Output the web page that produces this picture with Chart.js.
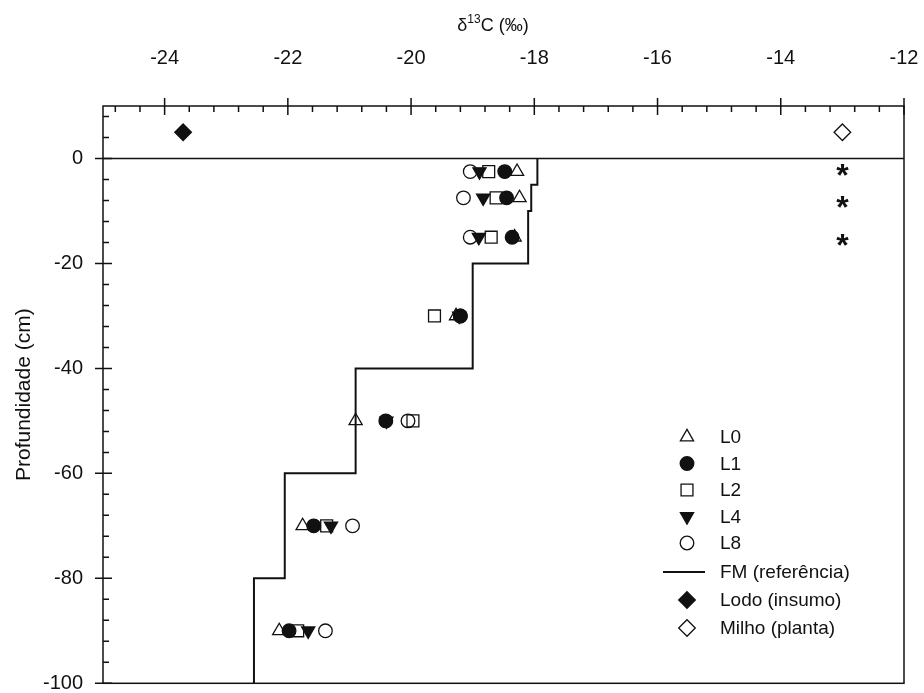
<!DOCTYPE html>
<html><head><meta charset="utf-8">
<script src="https://cdn.jsdelivr.net/npm/chart.js@4/dist/chart.umd.min.js"></script>
<style>html,body{margin:0;padding:0;background:#fff}#wrap{width:924px;height:693px;position:relative}</style>
</head><body><div id="wrap"><canvas id="c"></canvas></div>
<script>
// ---- data ----
const depths = [-2.5, -7.5, -15, -30, -50, -70, -90];
const L0 = [-18.28, -18.24, -18.32, -19.27, -20.90, -21.76, -22.14];
const L1 = [-18.48, -18.45, -18.36, -19.20, -20.41, -21.58, -21.98];
const L2 = [-18.74, -18.62, -18.70, -19.62, -19.97, -21.37, -21.84];
const L4 = [-18.89, -18.83, -18.90, -19.22, -20.40, -21.30, -21.67];
const L8 = [-19.04, -19.15, -19.04, -19.20, -20.05, -20.95, -21.39];
const fmX = [-17.95, -17.95, -18.05, -18.05, -18.10, -18.10, -19.00, -19.00, -20.90, -20.90, -22.05, -22.05, -22.55, -22.55];
const fmY = [0, -5, -5, -10, -10, -20, -20, -40, -40, -60, -60, -80, -80, -100];
const lodoX = [-23.7], lodoY = [5];
const milhoX = [-13.0], milhoY = [5];
const starX = [-13.0, -13.0, -13.0];
const starY = [-2.2, -8.2, -15.6];
const xTicks = [-24, -22, -20, -18, -16, -14, -12];
const yTicks = [0, -20, -40, -60, -80, -100];
const seriesNames = ['L0', 'L1', 'L2', 'L4', 'L8', 'FM (referência)', 'Lodo (insumo)', 'Milho (planta)'];
const xTitle = ['δ', '13', 'C (‰)'];
const yTitle = 'Profundidade (cm)';

const FONT = "'Liberation Sans', Arial, sans-serif";
const INK = '#111';
const pts = (xs, ys) => xs.map((x, i) => ({x: x, y: ys[i]}));

const mk = (label, xs, style, r, filled, rot, order) => ({
  label: label, data: pts(xs, depths), pointStyle: style, pointRadius: r, pointRotation: rot || 0,
  pointBackgroundColor: filled ? INK : 'rgba(0,0,0,0)', pointBorderColor: INK, pointBorderWidth: 1.3,
  showLine: false, order: order
});

const datasets = [
  mk(seriesNames[0], L0, 'triangle', 7.6, false, 0, 5),
  mk(seriesNames[1], L1, 'circle', 6.8, true, 0, 1),
  mk(seriesNames[2], L2, 'rect', 8.4, false, 0, 3),
  mk(seriesNames[3], L4, 'triangle', 7.6, true, 180, 2),
  mk(seriesNames[4], L8, 'circle', 6.8, false, 0, 4),
  {label: seriesNames[5], data: pts(fmX, fmY), showLine: true, borderColor: INK, borderWidth: 2,
   pointRadius: 0, fill: false, tension: 0, order: 6},
  {label: seriesNames[6], data: pts(lodoX, lodoY), pointStyle: 'rectRot', pointRadius: 8.3,
   pointBackgroundColor: INK, pointBorderColor: INK, pointBorderWidth: 1.3, order: 7},
  {label: seriesNames[7], data: pts(milhoX, milhoY), pointStyle: 'rectRot', pointRadius: 8.3,
   pointBackgroundColor: 'rgba(0,0,0,0)', pointBorderColor: INK, pointBorderWidth: 1.3, order: 8}
];

function drawMarker(ctx, style, r, x, y, filled, rot) {
  ctx.beginPath();
  if (style === 'circle') {
    ctx.arc(x, y, r, 0, Math.PI * 2);
  } else if (style === 'triangle') {
    let rad = (rot || 0) * Math.PI / 180;
    ctx.moveTo(x + Math.sin(rad) * r, y - Math.cos(rad) * r);
    rad += 2 * Math.PI / 3;
    ctx.lineTo(x + Math.sin(rad) * r, y - Math.cos(rad) * r);
    rad += 2 * Math.PI / 3;
    ctx.lineTo(x + Math.sin(rad) * r, y - Math.cos(rad) * r);
  } else if (style === 'rect') {
    const s = r * Math.SQRT1_2;
    ctx.rect(x - s, y - s, 2 * s, 2 * s);
  } else if (style === 'rectRot') {
    ctx.moveTo(x - r, y); ctx.lineTo(x, y - r); ctx.lineTo(x + r, y); ctx.lineTo(x, y + r);
  }
  ctx.closePath();
  ctx.fillStyle = INK; ctx.strokeStyle = INK; ctx.lineWidth = 1.3;
  if (filled) ctx.fill();
  ctx.stroke();
}

const decor = {
  id: 'decor',
  beforeDatasetsDraw(chart) {
    const {ctx, chartArea: a, scales: {x, y}} = chart;
    ctx.save();
    ctx.strokeStyle = INK; ctx.lineWidth = 1.5;
    const y0 = Math.round(y.getPixelForValue(0)) + 0.5;
    ctx.beginPath(); ctx.moveTo(a.left, y0); ctx.lineTo(a.right, y0); ctx.stroke();
    ctx.restore();
  },
  afterDatasetsDraw(chart) {
    const {ctx, chartArea: a, scales: {x, y}} = chart;
    ctx.save();
    ctx.strokeStyle = INK; ctx.lineWidth = 1.5;
    // frame
    ctx.strokeRect(a.left, a.top, a.right - a.left, a.bottom - a.top);
    // top axis ticks
    ctx.beginPath();
    for (let v = -24.4; v > x.min - 1e-6; v -= 0.4) {
      const px = x.getPixelForValue(v); ctx.moveTo(px, a.top); ctx.lineTo(px, a.top + 6);
    }
    for (let k = 0; k <= 30; k++) {
      const v = -24 + k * 0.4;
      if (v > x.max + 1e-6) break;
      const px = x.getPixelForValue(v);
      if (k % 5 === 0) { ctx.moveTo(px, a.top - 8); ctx.lineTo(px, a.top + 9); }
      else { ctx.moveTo(px, a.top); ctx.lineTo(px, a.top + 6); }
    }
    // left axis ticks
    for (let v = 8; v >= -100; v -= 4) {
      const py = y.getPixelForValue(v);
      if (v % 20 === 0) { ctx.moveTo(a.left - 8, py); ctx.lineTo(a.left + 9, py); }
      else { ctx.moveTo(a.left, py); ctx.lineTo(a.left + 6, py); }
    }
    ctx.stroke();

    // asterisks (significance marks)
    ctx.fillStyle = INK;
    ctx.font = 'bold 32px ' + FONT;
    ctx.textAlign = 'center'; ctx.textBaseline = 'alphabetic';
    const m = ctx.measureText('*');
    const mid = (m.actualBoundingBoxAscent - m.actualBoundingBoxDescent) / 2;
    starX.forEach((sx, i) => {
      ctx.fillText('*', x.getPixelForValue(sx), y.getPixelForValue(starY[i]) + mid);
    });

    // top title with superscript
    ctx.textBaseline = 'alphabetic'; ctx.textAlign = 'left';
    const fBig = '18px ' + FONT, fSmall = '12px ' + FONT;
    ctx.font = fBig; const w1 = ctx.measureText(xTitle[0]).width; const w3 = ctx.measureText(xTitle[2]).width;
    ctx.font = fSmall; const w2 = ctx.measureText(xTitle[1]).width;
    let tx = 493 - (w1 + w2 + w3) / 2;
    const base = 31;
    ctx.font = fBig; ctx.fillText(xTitle[0], tx, base); tx += w1;
    ctx.font = fSmall; ctx.fillText(xTitle[1], tx, base - 8); tx += w2;
    ctx.font = fBig; ctx.fillText(xTitle[2], tx, base);

    // y title
    ctx.save();
    ctx.translate(24, (a.top + a.bottom) / 2);
    ctx.rotate(-Math.PI / 2);
    ctx.textAlign = 'center'; ctx.textBaseline = 'middle';
    ctx.font = '21px ' + FONT;
    ctx.fillText(yTitle, 0, 0);
    ctx.restore();

    // legend
    const lgX = 687, lgTx = 720;
    const lgY = [437, 463.5, 490, 516.5, 543, 572, 600, 628];
    const specs = [
      ['triangle', 7.6, false, 0], ['circle', 6.8, true, 0], ['rect', 8.4, false, 0],
      ['triangle', 7.6, true, 180], ['circle', 6.8, false, 0], null,
      ['rectRot', 8.3, true, 0], ['rectRot', 8.3, false, 0]
    ];
    ctx.font = '19px ' + FONT; ctx.textAlign = 'left'; ctx.textBaseline = 'middle';
    specs.forEach((s, i) => {
      if (s) drawMarker(ctx, s[0], s[1], lgX, lgY[i], s[2], s[3]);
      else {
        ctx.strokeStyle = INK; ctx.lineWidth = 2;
        ctx.beginPath(); ctx.moveTo(663, lgY[i]); ctx.lineTo(705, lgY[i]); ctx.stroke();
      }
      ctx.fillStyle = INK;
      ctx.fillText(seriesNames[i], lgTx, lgY[i] + 1);
    });
    ctx.restore();
  }
};

new Chart(document.getElementById('c'), {
  type: 'scatter',
  data: {datasets: datasets},
  options: {
    responsive: true, maintainAspectRatio: false, animation: false,
    layout: {padding: {left: 0, right: 20, top: 0, bottom: 9}},
    plugins: {legend: {display: false}, tooltip: {enabled: false}},
    scales: {
      x: {
        type: 'linear', position: 'top', min: -25, max: -12,
        afterBuildTicks: s => { s.ticks = xTicks.map(v => ({value: v})); },
        afterFit: s => { s.height = 106; s.paddingLeft = 0; s.paddingRight = 0; },
        grid: {display: false, drawTicks: false}, border: {display: false},
        ticks: {color: INK, font: {family: FONT, size: 20}, padding: 36, maxRotation: 0, autoSkip: false,
                callback: v => String(v)}
      },
      y: {
        type: 'linear', min: -100, max: 10,
        afterBuildTicks: s => { s.ticks = yTicks.map(v => ({value: v})); },
        afterFit: s => { s.width = 103; s.paddingTop = 0; s.paddingBottom = 0; },
        grid: {display: false, drawTicks: false}, border: {display: false},
        ticks: {color: INK, font: {family: FONT, size: 20}, padding: 20, autoSkip: false,
                callback: v => String(v)}
      }
    }
  },
  plugins: [decor]
});
</script>
</body></html>
